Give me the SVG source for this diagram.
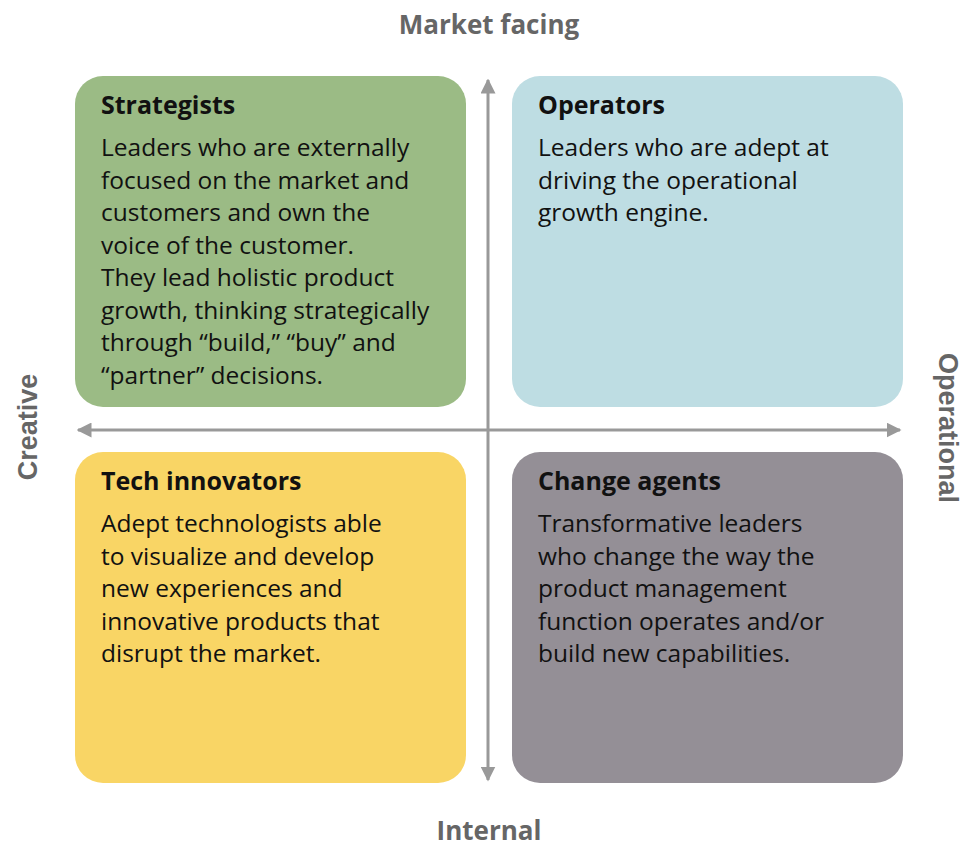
<svg xmlns="http://www.w3.org/2000/svg" width="974" height="851" viewBox="0 0 974 851">
  <style>
    .title { font-family: "Open Sans", "Noto Sans", sans-serif; font-weight: 700; font-size: 25px; fill: #111; }
    .body { font-family: "Open Sans", "Noto Sans", sans-serif; font-size: 24.5px; fill: #111; }
    .axis-label { font-family: "Open Sans", "Noto Sans", sans-serif; font-weight: 700; font-size: 26px; fill: #666; }
    .side-label { font-family: "Liberation Sans", Arial, sans-serif; font-weight: 700; font-size: 27px; fill: #666; }
    .axis { stroke: #999; stroke-width: 3; fill: none; }
  </style>
  <defs>
    <marker id="arrow" viewBox="0 0 10 10" refX="9" refY="5" markerWidth="5" markerHeight="5" orient="auto-start-reverse" markerUnits="strokeWidth">
      <path d="M0,0 L10,5 L0,10 Z" fill="#999"/>
    </marker>
  </defs>
  <rect width="974" height="851" fill="#fff"/>

  <g id="strategists">
    <rect x="75" y="76" width="391" height="331" rx="28" fill="#9BBB85"/>
    <text class="title" x="101" y="114">Strategists</text>
    <text class="body" x="101">
      <tspan x="101" y="156">Leaders who are externally</tspan>
      <tspan x="101" y="188.5">focused on the market and</tspan>
      <tspan x="101" y="221">customers and own the</tspan>
      <tspan x="101" y="253.5">voice of the customer.</tspan>
      <tspan x="101" y="286">They lead holistic product</tspan>
      <tspan x="101" y="318.5">growth, thinking strategically</tspan>
      <tspan x="101" y="351">through “build,” “buy” and</tspan>
      <tspan x="101" y="383.5">“partner” decisions.</tspan>
    </text>
  </g>

  <g id="operators">
    <rect x="512" y="76" width="391" height="331" rx="28" fill="#BEDDE3"/>
    <text class="title" x="538" y="114">Operators</text>
    <text class="body">
      <tspan x="538" y="156">Leaders who are adept at</tspan>
      <tspan x="538" y="188.5">driving the operational</tspan>
      <tspan x="538" y="221">growth engine.</tspan>
    </text>
  </g>

  <g id="tech-innovators">
    <rect x="75" y="452" width="391" height="331" rx="28" fill="#F9D565"/>
    <text class="title" x="101" y="490">Tech innovators</text>
    <text class="body">
      <tspan x="101" y="532">Adept technologists able</tspan>
      <tspan x="101" y="564.5">to visualize and develop</tspan>
      <tspan x="101" y="597">new experiences and</tspan>
      <tspan x="101" y="629.5">innovative products that</tspan>
      <tspan x="101" y="662">disrupt the market.</tspan>
    </text>
  </g>

  <g id="change-agents">
    <rect x="512" y="452" width="391" height="331" rx="28" fill="#948F96"/>
    <text class="title" x="538" y="490">Change agents</text>
    <text class="body">
      <tspan x="538" y="532">Transformative leaders</tspan>
      <tspan x="538" y="564.5">who change the way the</tspan>
      <tspan x="538" y="597">product management</tspan>
      <tspan x="538" y="629.5">function operates and/or</tspan>
      <tspan x="538" y="662">build new capabilities.</tspan>
    </text>
  </g>

  <g id="connectors">
    <line class="axis" x1="488" y1="430" x2="488" y2="80" marker-end="url(#arrow)"/>
    <line class="axis" x1="488" y1="430" x2="488" y2="780" marker-end="url(#arrow)"/>
    <line class="axis" x1="488" y1="430" x2="78" y2="430" marker-end="url(#arrow)"/>
    <line class="axis" x1="488" y1="430" x2="900" y2="430" marker-end="url(#arrow)"/>
  </g>

  <g id="axis-labels">
    <text class="axis-label" x="489" y="34" text-anchor="middle">Market facing</text>
    <text class="axis-label" x="489" y="840" text-anchor="middle">Internal</text>
    <text class="side-label" transform="translate(37,427) rotate(-90)" text-anchor="middle">Creative</text>
    <text class="side-label" transform="translate(939,428) rotate(90)" text-anchor="middle">Operational</text>
  </g>
</svg>
